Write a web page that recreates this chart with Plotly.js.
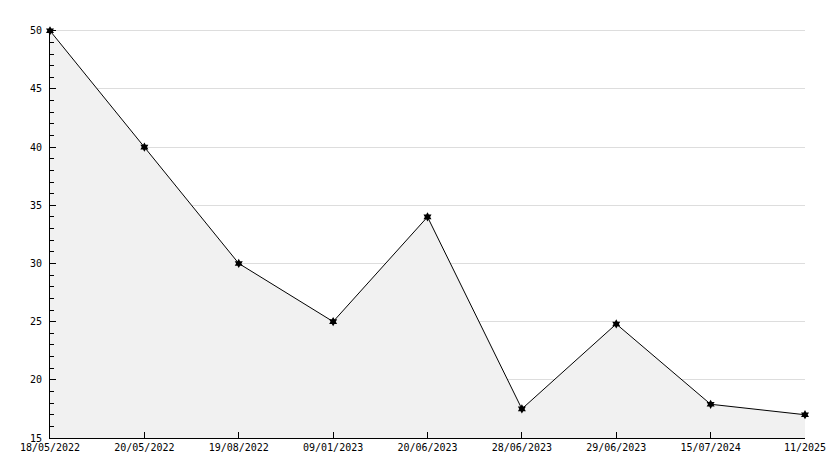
<!DOCTYPE html>
<html><head><meta charset="utf-8">
<script src="https://cdn.plot.ly/plotly-3.0.1.min.js"></script>
<style>html,body{margin:0;padding:0;background:#fff}#c{width:834px;height:468px}</style>
</head><body><div id="c"></div>
<script>
const dates = ["18/05/2022","20/05/2022","19/08/2022","09/01/2023","20/06/2023","28/06/2023","29/06/2023","15/07/2024","11/2025"];
const values = [50, 40, 30, 25, 34, 17.5, 24.8, 17.9, 17];
const yTicks = [15, 20, 25, 30, 35, 40, 45, 50];

const last = dates.length - 1;
const traces = [
  {
    x: [dates[last], dates[last]], y: [values[last], yTicks[0]],
    type: 'scatter', mode: 'lines', line: {color: '#000', width: 1.3},
    cliponaxis: false, hoverinfo: 'skip'
  },
  {
    x: dates, y: values, type: 'scatter', mode: 'lines+markers',
    fill: 'tozeroy', fillcolor: '#f1f1f1',
    line: {color: '#000', width: 1},
    marker: {symbol: 'hexagram', size: 7, color: '#000', line: {width: 0}},
    cliponaxis: false,
    hoverinfo: 'skip'
  }
];

const layout = {
  width: 834, height: 468,
  margin: {l: 50, r: 29, t: 29, b: 30},
  paper_bgcolor: '#fff', plot_bgcolor: '#fff',
  showlegend: false,
  font: {family: 'DejaVu Sans Mono, monospace', size: 10, color: '#000'},
  xaxis: {
    type: 'category', categoryorder: 'array', categoryarray: dates,
    range: [0, last],
    showgrid: false, zeroline: false,
    showline: true, linecolor: '#000', linewidth: 1,
    ticks: 'inside', ticklen: 6, tickcolor: '#000',
    tickvals: dates, ticktext: dates,
    tickfont: {family: 'DejaVu Sans Mono, monospace', size: 10, color: '#000'},
    ticklabelstandoff: 0
  },
  yaxis: {
    range: [yTicks[0], yTicks[yTicks.length - 1] + 0.15],
    tickvals: yTicks, ticktext: yTicks.map(String),
    showgrid: true, gridcolor: '#dddddd', gridwidth: 1,
    zeroline: false,
    showline: true, linecolor: '#000', linewidth: 1,
    ticks: 'inside', ticklen: 6, tickcolor: '#000',
    minor: {dtick: 1, ticks: 'inside', ticklen: 4, tickcolor: '#000', showgrid: false},
    tickfont: {family: 'DejaVu Sans Mono, monospace', size: 10, color: '#000'},
    ticklabelstandoff: 5
  }
};

Plotly.newPlot('c', traces, layout, {displayModeBar: false, staticPlot: true});
</script></body></html>
